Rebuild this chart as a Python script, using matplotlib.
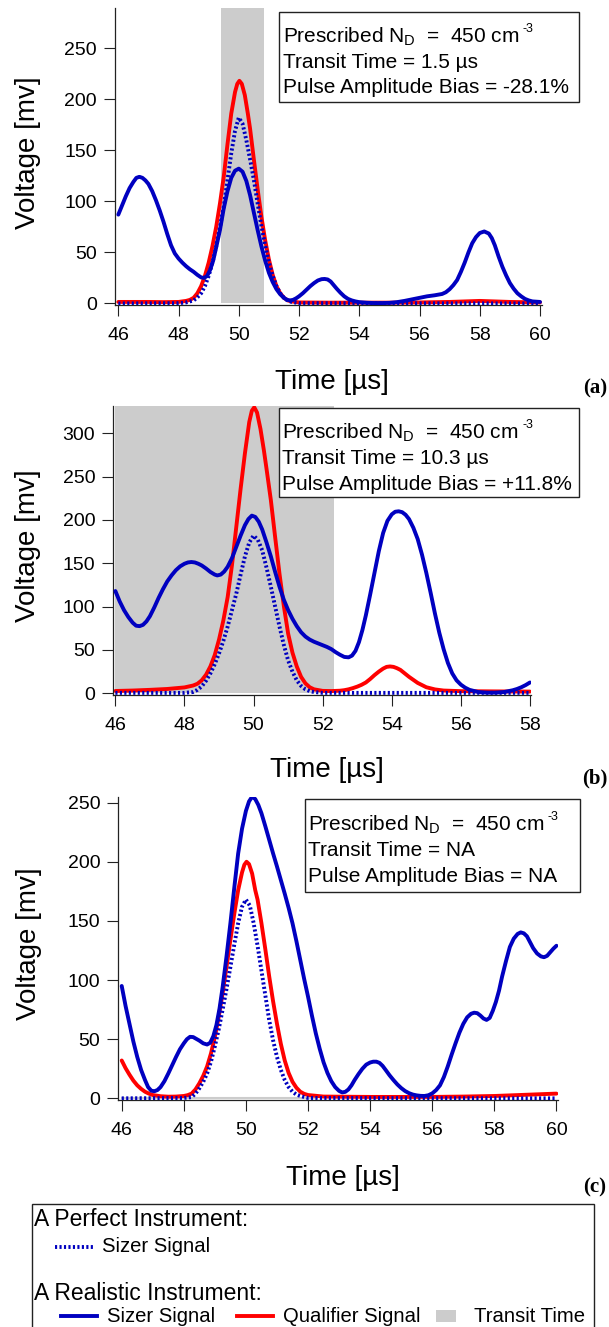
import matplotlib
matplotlib.use('Agg')
import matplotlib.pyplot as plt
from matplotlib.patches import Rectangle
from matplotlib.lines import Line2D

plt.rcParams['font.family'] = ['Liberation Sans', 'DejaVu Sans']
plt.rcParams['mathtext.default'] = 'regular'

# ---------------- data: (time [us], voltage [mv]) ----------------
# panel (a)
a_sizer = [(46, 87), (46.125, 96), (46.25, 105), (46.375, 113), (46.5, 119), (46.6, 123),
           (46.7, 124), (46.8, 123), (46.9, 120.5), (47, 117), (47.125, 110), (47.25, 101),
           (47.375, 91), (47.5, 80), (47.625, 68), (47.75, 57), (47.875, 49), (48, 44),
           (48.125, 40), (48.25, 36.5), (48.375, 33.5), (48.5, 31), (48.625, 28), (48.75, 25.5),
           (48.85, 25), (48.95, 27), (49.05, 33), (49.15, 42), (49.25, 55), (49.375, 72),
           (49.5, 93), (49.625, 110), (49.75, 123), (49.875, 130), (50, 132), (50.125, 129),
           (50.25, 120), (50.375, 106), (50.5, 89), (50.625, 72), (50.75, 56), (50.875, 42),
           (51, 30), (51.125, 21), (51.25, 14), (51.375, 9), (51.5, 5.5), (51.6, 3.5), (51.7, 3),
           (51.8, 3.5), (51.9, 5), (52, 7), (52.125, 10), (52.25, 13.5), (52.375, 17), (52.5, 20),
           (52.625, 22.5), (52.75, 23.8), (52.85, 24), (52.95, 23.5), (53.05, 21.5), (53.15, 18),
           (53.25, 14.5), (53.375, 10.5), (53.5, 7), (53.625, 4.5), (53.75, 3), (53.875, 2),
           (54, 1.3), (54.25, 0.7), (54.5, 0.4), (54.75, 0.4), (55, 0.6), (55.25, 1.3), (55.5, 2.5),
           (55.75, 4), (56, 5.5), (56.25, 7), (56.5, 8), (56.75, 9.3), (56.875, 11), (57, 14),
           (57.125, 18), (57.25, 23), (57.375, 31), (57.5, 40), (57.625, 50), (57.75, 59),
           (57.875, 65), (58, 69), (58.15, 70.5), (58.3, 68.5), (58.4, 64), (58.5, 57),
           (58.625, 46), (58.75, 36), (58.875, 27.5), (59, 20), (59.125, 14.5), (59.25, 10),
           (59.375, 7), (59.5, 4.5), (59.625, 3), (59.75, 2), (60, 1.5)]
a_qual = [(46, 1.5), (47, 1.5), (47.5, 1.3), (48, 1.5), (48.25, 2.5), (48.375, 3.5), (48.5, 5.5),
          (48.625, 10), (48.75, 17), (48.875, 27), (49, 40), (49.125, 56), (49.25, 75),
          (49.375, 98), (49.5, 124), (49.625, 156), (49.75, 186), (49.875, 207), (49.95, 215),
          (50.02, 218), (50.1, 215), (50.2, 204), (50.3, 186), (50.375, 171), (50.5, 141),
          (50.625, 112), (50.75, 85), (50.875, 62), (51, 43), (51.125, 28), (51.25, 17),
          (51.375, 10), (51.5, 5.5), (51.625, 3), (51.75, 2), (52, 1), (53, 0.8), (55, 0.8),
          (56, 1), (57, 1.5), (57.5, 2), (58, 2.5), (58.5, 2), (59, 1.5), (60, 1)]
a_perfect = [(46, 0), (48, 0.3), (48.25, 1), (48.5, 3), (48.625, 6), (48.75, 10), (48.875, 17),
             (49, 27), (49.125, 40), (49.25, 56), (49.375, 75), (49.5, 95), (49.625, 121),
             (49.75, 147), (49.875, 169), (50, 182), (50.125, 176), (50.25, 160), (50.375, 141),
             (50.5, 121), (50.625, 98), (50.75, 76), (50.875, 57), (51, 40), (51.125, 27),
             (51.25, 17), (51.375, 10), (51.5, 5.5), (51.625, 3), (51.75, 1.5), (52, 0.3), (60, 0)]
transit_a = [49.42, 50.85]

# panel (b)
b_sizer = [(46, 118), (46.125, 106), (46.25, 96), (46.375, 88), (46.5, 81.5), (46.6, 78),
           (46.7, 77.5), (46.8, 79), (46.9, 83), (47, 89), (47.125, 99), (47.25, 110),
           (47.375, 120), (47.5, 129), (47.625, 136), (47.75, 142), (47.875, 146.5), (48, 149.5),
           (48.1, 151), (48.2, 151.5), (48.3, 151), (48.4, 149.5), (48.5, 147.5), (48.625, 144),
           (48.75, 140), (48.875, 137), (48.95, 136), (49.05, 137), (49.15, 140.5), (49.25, 146),
           (49.375, 156), (49.5, 169), (49.625, 182), (49.75, 194), (49.85, 201), (49.95, 205),
           (50.05, 203.5), (50.15, 198), (50.25, 189), (50.375, 174), (50.5, 158), (50.625, 140),
           (50.75, 123), (50.875, 108), (51, 96), (51.125, 86), (51.25, 77.5), (51.375, 70.5),
           (51.5, 65.5), (51.625, 62), (51.75, 59.5), (51.875, 57.5), (52, 55.5), (52.125, 53.5),
           (52.25, 51), (52.375, 47.5), (52.5, 44.5), (52.625, 42), (52.75, 41.5), (52.85, 43.5),
           (52.95, 49), (53.05, 59), (53.15, 73), (53.25, 90), (53.375, 114), (53.5, 139),
           (53.625, 164), (53.75, 185), (53.875, 199), (54, 206.5), (54.1, 209.5), (54.2, 210),
           (54.3, 209), (54.4, 206), (54.5, 201), (54.625, 191), (54.75, 178), (54.875, 160),
           (55, 139), (55.125, 116), (55.25, 92), (55.375, 70), (55.5, 51), (55.625, 35),
           (55.75, 23), (55.875, 15), (56, 10), (56.125, 6.5), (56.25, 4), (56.5, 1.5),
           (56.75, 0.8), (57, 0.8), (57.25, 1.5), (57.5, 3.5), (57.625, 5), (57.75, 7),
           (57.875, 9.5), (58, 12.5)]
b_qual = [(46, 2.7), (46.5, 3.2), (47, 4), (47.5, 5), (48, 6.8), (48.25, 9), (48.375, 11),
          (48.5, 15), (48.625, 21.5), (48.75, 31), (48.875, 44), (49, 62), (49.125, 84),
          (49.25, 111), (49.375, 148), (49.5, 192), (49.625, 236), (49.75, 277), (49.875, 313),
          (49.95, 326), (50.02, 330), (50.1, 324), (50.2, 305), (50.3, 280), (50.375, 259),
          (50.5, 223), (50.625, 180), (50.75, 138), (50.875, 101), (51, 69), (51.125, 47),
          (51.25, 31), (51.375, 19), (51.5, 11.5), (51.625, 7), (51.75, 4.6), (52, 2.8),
          (52.25, 2.6), (52.5, 3), (52.625, 3.6), (52.75, 4.6), (52.875, 6), (53, 7.7),
          (53.125, 9.8), (53.25, 12.5), (53.375, 16.5), (53.5, 21), (53.625, 25), (53.75, 28.5),
          (53.85, 30.5), (53.95, 31), (54.05, 30.5), (54.15, 29), (54.25, 27), (54.375, 23),
          (54.5, 19), (54.625, 15.5), (54.75, 12), (54.875, 9.5), (55, 7), (55.25, 4.5),
          (55.5, 3.2), (56, 2.5), (57, 2.2), (58, 2)]
b_perfect = [(46, 0.5), (48, 0.5), (48.25, 1.5), (48.375, 4), (48.5, 8), (48.625, 14.5),
             (48.75, 23), (48.875, 33.5), (49, 46), (49.125, 60.5), (49.25, 77), (49.375, 96),
             (49.5, 115), (49.625, 137), (49.75, 158), (49.875, 174), (50, 182), (50.125, 177),
             (50.25, 165), (50.375, 145), (50.5, 123), (50.625, 100), (50.75, 77), (50.875, 56),
             (51, 38), (51.125, 25), (51.25, 15), (51.375, 8.5), (51.5, 4.6), (51.625, 2.5),
             (51.75, 1.5), (52, 0.5), (58, 0.5)]
transit_b = [46.0, 52.33]

# panel (c)
c_sizer = [(46, 95), (46.125, 78), (46.25, 63), (46.375, 48), (46.5, 35), (46.625, 24),
           (46.75, 15.5), (46.85, 9.5), (46.95, 6.5), (47.05, 6), (47.15, 7), (47.25, 9.5),
           (47.375, 14.5), (47.5, 21), (47.625, 28), (47.75, 35), (47.875, 41.5), (48, 46.5),
           (48.1, 50), (48.2, 52), (48.3, 51.8), (48.4, 50.3), (48.5, 48.8), (48.625, 46.5),
           (48.75, 45.5), (48.85, 47), (48.95, 52.5), (49.05, 62), (49.15, 76), (49.25, 94),
           (49.375, 120), (49.5, 148), (49.625, 178), (49.75, 207), (49.875, 228), (50, 243),
           (50.1, 251), (50.2, 255), (50.3, 253), (50.4, 248), (50.5, 241), (50.625, 230),
           (50.75, 218.5), (50.875, 207), (51, 196), (51.125, 184.5), (51.25, 173), (51.375, 161),
           (51.5, 148), (51.625, 133), (51.75, 117), (51.875, 101), (52, 86), (52.125, 70),
           (52.25, 55), (52.375, 42), (52.5, 30.5), (52.625, 21.5), (52.75, 14.5), (52.875, 9.5),
           (53, 6.3), (53.1, 5), (53.2, 5.5), (53.3, 7.5), (53.4, 11), (53.5, 15.5),
           (53.625, 20.5), (53.75, 25), (53.875, 28.5), (54, 30.3), (54.1, 31), (54.2, 31),
           (54.3, 30), (54.4, 27.5), (54.5, 24), (54.625, 19.5), (54.75, 15.5), (54.875, 11.8),
           (55, 8.7), (55.125, 6.2), (55.25, 4.4), (55.375, 3.2), (55.5, 2.5), (55.625, 2.1),
           (55.75, 2), (55.875, 2.6), (56, 4.2), (56.125, 7), (56.25, 11), (56.375, 18),
           (56.5, 27), (56.625, 37), (56.75, 46.5), (56.875, 55.5), (57, 63), (57.125, 68.5),
           (57.25, 71.5), (57.35, 72.4), (57.45, 72), (57.55, 70), (57.65, 67.5), (57.75, 66.3),
           (57.85, 68), (57.95, 74), (58.05, 81.5), (58.15, 91), (58.25, 103), (58.375, 116),
           (58.5, 128), (58.625, 135), (58.75, 139), (58.85, 140.3), (58.95, 139.5),
           (59.05, 137), (59.15, 132), (59.25, 127), (59.375, 122.5), (59.5, 120), (59.6, 119.3),
           (59.7, 120.5), (59.8, 123.5), (59.9, 126.5), (60, 129)]
c_qual = [(46, 32), (46.125, 25.5), (46.25, 20), (46.375, 15), (46.5, 11), (46.625, 8),
          (46.75, 5.6), (46.875, 4), (47, 2.8), (47.25, 1.8), (47.5, 1.4), (47.75, 1.5), (48, 2),
          (48.125, 2.7), (48.25, 4), (48.375, 7.5), (48.5, 12.7), (48.625, 19), (48.75, 27),
          (48.875, 38), (49, 52), (49.125, 69), (49.25, 89), (49.375, 111), (49.5, 134),
          (49.625, 156), (49.75, 176), (49.875, 191), (49.95, 197.5), (50.02, 200), (50.1, 198),
          (50.2, 190), (50.3, 176), (50.375, 168), (50.5, 148), (50.625, 126), (50.75, 103),
          (50.875, 82), (51, 63), (51.125, 46), (51.25, 32), (51.375, 21.5), (51.5, 14),
          (51.625, 9), (51.75, 5.6), (51.875, 3.8), (52, 2.8), (52.5, 1.5), (54, 1.2), (56, 1.2),
          (57, 1.5), (58, 2), (59, 3), (60, 4)]
c_perfect = [(46, 0), (48, 0.3), (48.25, 1), (48.375, 4), (48.5, 8.5), (48.625, 14), (48.75, 21),
             (48.875, 31), (49, 44), (49.125, 58.5), (49.25, 75), (49.375, 92.5), (49.5, 111),
             (49.625, 130), (49.75, 148), (49.875, 162), (50, 168), (50.125, 163), (50.25, 148),
             (50.375, 129), (50.5, 108), (50.625, 87), (50.75, 66), (50.875, 49), (51, 35),
             (51.125, 24), (51.25, 15.5), (51.375, 9.5), (51.5, 5.6), (51.625, 3.2), (51.75, 2),
             (52, 0.3), (60, 0)]
transit_c = [46.0, 52.3]

transit_texts = ['1.5 \u00b5s', '10.3 \u00b5s', 'NA']
bias_texts = ['-28.1%', '+11.8%', 'NA']
panel_tags = ['(a)', '(b)', '(c)']

BLUE = '#0000c0'
RED = '#ff0000'
GRAY = '#cccccc'

W, H = 609, 1327
fig = plt.figure(figsize=(W / 100, H / 100), dpi=100)
renderer = fig.canvas.get_renderer()


def fx(x):
    return x / W


def fy(y):
    return 1 - y / H


# layout in pixels: axes box, limits, info box, label positions
panels = [
    dict(box=(115, 541.5, 8.3, 305), xlim=(45.89, 60.05), ylim=(-1.5, 289), xmax=60, ymax=250,
         series=(a_sizer, a_qual, a_perfect), transit=transit_a,
         tbox=(279.3, 579.3, 11.7, 101.7), tx=282.7, base=42.3,
         xlab=(332, 382), ylab=(28, 153), tag=(595, 388)),
    dict(box=(113.3, 531, 406, 694.7), xlim=(45.94, 58.03), ylim=(-1.6, 331.5), xmax=58, ymax=300,
         series=(b_sizer, b_qual, b_perfect), transit=transit_b,
         tbox=(279, 578.6, 408.3, 496.7), tx=282.5, base=438.5,
         xlab=(327, 770), ylab=(28, 546), tag=(595, 778)),
    dict(box=(118.3, 558, 796.7, 1100), xlim=(45.89, 60.05), ylim=(-1.4, 255), xmax=60, ymax=250,
         series=(c_sizer, c_qual, c_perfect), transit=transit_c,
         tbox=(304.9, 579.8, 799.3, 891.7), tx=308, base=830.7,
         xlab=(343, 1178), ylab=(29, 944), tag=(595, 1187)),
]

for i, p in enumerate(panels):
    l, r, t, b = p['box']
    ax = fig.add_axes([fx(l), fy(b), (r - l) / W, (b - t) / H])
    ax.set_xlim(*p['xlim'])
    ax.set_ylim(*p['ylim'])

    sizer, qual, perfect = p['series']
    ts, vs = zip(*sizer)
    tq, vq = zip(*qual)
    tp, vp = zip(*perfect)
    t0, t1 = p['transit']
    if i < 2:
        ax.bar(t0, p['ylim'][1], width=t1 - t0, bottom=0, align='edge',
               color=GRAY, linewidth=0, zorder=1)
    else:
        ax.plot([t0, t1], [0, 0], color=GRAY, lw=1.5, zorder=1)
    ax.plot(tq, vq, color=RED, lw=2.8, solid_joinstyle='round', solid_capstyle='round', zorder=2)
    ax.plot(tp, vp, color=BLUE, lw=2.8, ls=(0, (0.55, 0.6)), dash_capstyle='butt', zorder=3)
    ax.plot(ts, vs, color=BLUE, lw=2.8, solid_joinstyle='round', solid_capstyle='round', zorder=4)

    ax.set_xticks(range(46, p['xmax'] + 1, 2))
    ax.set_yticks(range(0, p['ymax'] + 1, 50))
    for s in ['top', 'right']:
        ax.spines[s].set_visible(False)
    for s in ['left', 'bottom']:
        ax.spines[s].set_linewidth(0.9)
        ax.spines[s].set_color('#222222')
    ax.tick_params(direction='out', length=8, width=0.8, color='#222222', labelsize=14)
    ax.tick_params(axis='y', pad=5)
    ax.tick_params(axis='x', pad=8)
    ax.patch.set_alpha(0)

    fig.text(fx(p['xlab'][0]), fy(p['xlab'][1]), 'Time [\u00b5s]', fontsize=20,
             ha='center', va='center')
    fig.text(fx(p['ylab'][0]), fy(p['ylab'][1]), 'Voltage [mv]', fontsize=20,
             ha='center', va='center', rotation=90)
    fig.text(fx(p['tag'][0]), fy(p['tag'][1]), panel_tags[i], fontsize=15,
             family='Liberation Serif', weight='bold', ha='center', va='center')

    bl, br, bt, bb = p['tbox']
    fig.add_artist(Rectangle((fx(bl), fy(bb)), (br - bl) / W, (bb - bt) / H,
                             transform=fig.transFigure, facecolor='white',
                             edgecolor='#222222', lw=1, zorder=5))
    first = fig.text(fx(p['tx']), fy(p['base']), r'Prescribed N$_{D}$  =  450 cm', fontsize=15,
                     ha='left', va='baseline', zorder=6)
    ext = first.get_window_extent(renderer)
    fig.text((ext.x1 + 3) / W, fy(p['base'] - 10.6), '-3', fontsize=9,
             ha='left', va='baseline', zorder=6)
    fig.text(fx(p['tx']), fy(p['base'] + 25.5), 'Transit Time = ' + transit_texts[i],
             fontsize=15, ha='left', va='baseline', zorder=6)
    fig.text(fx(p['tx']), fy(p['base'] + 51), 'Pulse Amplitude Bias = ' + bias_texts[i],
             fontsize=15, ha='left', va='baseline', zorder=6)

# legend box at the bottom
fig.add_artist(Rectangle((fx(32.4), fy(1340)), (594 - 32.4) / W, (1340 - 1204) / H,
                         transform=fig.transFigure, facecolor='white',
                         edgecolor='#222222', lw=1, zorder=5))
fig.text(fx(34.3), fy(1226), 'A Perfect Instrument:', fontsize=16.5, va='baseline', zorder=6)
fig.add_artist(Line2D([fx(55), fx(95)], [fy(1246.7), fy(1246.7)], color=BLUE, lw=2.8,
                      ls=(0, (0.55, 0.6)), transform=fig.transFigure, zorder=6))
fig.text(fx(102), fy(1252.5), 'Sizer Signal', fontsize=14.6, va='baseline', zorder=6)
fig.text(fx(34.3), fy(1300.5), 'A Realistic Instrument:', fontsize=16.5, va='baseline', zorder=6)
fig.add_artist(Line2D([fx(60.6), fx(97)], [fy(1315.7), fy(1315.7)], color=BLUE, lw=2.8,
                      transform=fig.transFigure, zorder=6))
fig.text(fx(107), fy(1321.5), 'Sizer Signal', fontsize=14.6, va='baseline', zorder=6)
fig.add_artist(Line2D([fx(237), fx(272.5)], [fy(1315.7), fy(1315.7)], color=RED, lw=2.8,
                      transform=fig.transFigure, zorder=6))
fig.text(fx(283), fy(1321.5), 'Qualifier Signal', fontsize=14.6, va='baseline', zorder=6)
fig.add_artist(Rectangle((fx(436), fy(1322)), 20 / W, 12 / H, transform=fig.transFigure,
                         facecolor=GRAY, edgecolor='none', zorder=6))
fig.text(fx(474.5), fy(1321.5), 'Transit Time', fontsize=14.6, va='baseline', zorder=6)

fig.savefig('out.png', dpi=100)
